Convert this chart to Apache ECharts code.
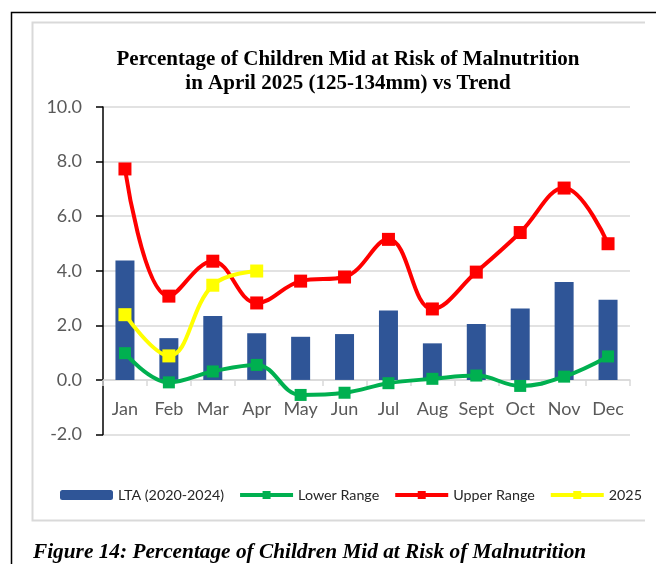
<!DOCTYPE html>
<html>
<head>
<meta charset="utf-8">
<title>Percentage of Children Mid at Risk of Malnutrition</title>
<script src="https://cdn.jsdelivr.net/npm/echarts@6/dist/echarts.min.js"></script>
<style>
  html, body { margin: 0; padding: 0; background: #ffffff; }
  #chart { width: 656px; height: 564px; }
</style>
</head>
<body>
<div id="chart"></div>
<script>
// Months on the category axis
var months = ['Jan', 'Feb', 'Mar', 'Apr', 'May', 'Jun', 'Jul', 'Aug', 'Sept', 'Oct', 'Nov', 'Dec'];

// Long-term average 2020-2024 (%)
var ltaValues = [4.38, 1.53, 2.34, 1.71, 1.58, 1.68, 2.54, 1.34, 2.05, 2.62, 3.59, 2.94];

// Lower and upper bounds of the expected range (%)
var lowerRange = [0.98, -0.09, 0.31, 0.55, -0.55, -0.47, -0.12, 0.04, 0.16, -0.22, 0.12, 0.86];
var upperRange = [7.73, 3.07, 4.35, 2.82, 3.62, 3.77, 5.15, 2.60, 3.95, 5.40, 7.03, 4.99];

// Observed values for 2025 (January to April)
var values2025 = [2.39, 0.88, 3.47, 3.99];

// Value axis ticks
var yMin = -2, yMax = 10, yStep = 2;

var chart = echarts.init(document.getElementById('chart'), null, { renderer: 'canvas' });

var labelFont = 'Lato, "Open Sans", sans-serif';

// Plot area edges in pixels
var gridTop = 107, gridBottom = 129.5;
var plotHeight = 564 - gridTop - gridBottom;
// Shift that puts the month axis on the zero line
var zeroShift = -plotHeight * (0 - yMin) / (yMax - yMin);

function lineSeries(name, data, color, size) {
  return {
    name: name,
    type: 'line',
    data: data,
    smooth: 0.4,
    symbol: 'rect',
    symbolSize: size,
    lineStyle: { color: color, width: 4 },
    itemStyle: { color: color },
    z: 3
  };
}

var option = {
  animation: false,
  backgroundColor: '#ffffff',
  title: {
    text: 'Percentage of Children Mid at Risk of Malnutrition\nin April 2025 (125-134mm) vs Trend',
    left: 343,
    top: 43,
    textAlign: 'center',
    textStyle: {
      fontFamily: '"Liberation Serif", "Times New Roman", serif',
      fontWeight: 'bold',
      fontSize: 21,
      lineHeight: 24,
      color: '#000000'
    }
  },
  legend: {
    left: 60,
    top: 488,
    width: 596,
    padding: 0,
    itemWidth: 53,
    itemHeight: 10,
    itemGap: 14,
    textStyle: { fontFamily: labelFont, fontSize: 14.3, color: '#262626' },
    lineStyle: { width: 4 },
    data: ['LTA (2020-2024)', 'Lower Range', 'Upper Range', '2025']
  },
  grid: { left: 103, right: 26, top: gridTop, bottom: gridBottom },
  xAxis: {
    type: 'category',
    data: months,
    boundaryGap: true,
    offset: zeroShift,
    axisLine: { onZero: false, lineStyle: { color: '#d9d9d9', width: 1.5 } },
    axisTick: { show: true, length: 6, lineStyle: { color: '#d9d9d9', width: 1.5 } },
    axisLabel: { interval: 0, margin: 20, fontFamily: labelFont, fontSize: 18, color: '#595959' }
  },
  yAxis: {
    type: 'value',
    min: yMin,
    max: yMax,
    interval: yStep,
    axisLine: { show: true, lineStyle: { color: '#000000', width: 1.5 } },
    axisTick: { show: true, length: 7, lineStyle: { color: '#000000', width: 1.5 } },
    splitLine: { lineStyle: { color: '#d9d9d9', width: 1.5 } },
    axisLabel: {
      margin: 21,
      fontFamily: labelFont,
      fontSize: 18,
      color: '#595959',
      formatter: function (v) { return v.toFixed(1); }
    }
  },
  series: [
    {
      name: 'LTA (2020-2024)',
      type: 'bar',
      data: ltaValues,
      barWidth: 19,
      itemStyle: { color: '#2f5597' },
      z: 2
    },
    lineSeries('Lower Range', lowerRange, '#00b050', 12),
    lineSeries('Upper Range', upperRange, '#ff0000', 13),
    lineSeries('2025', values2025, '#ffff00', 13)
  ],
  graphic: [
    {
      type: 'polyline',
      silent: true,
      shape: { points: [[11.5, 564], [11.5, 12.5], [656, 12.5]] },
      style: { fill: null, stroke: '#000000', lineWidth: 1.5 }
    },
    {
      type: 'polyline',
      silent: true,
      shape: { points: [[645, 22.5], [32.5, 22.5], [32.5, 520.5], [645, 520.5]] },
      style: { fill: null, stroke: '#d9d9d9', lineWidth: 2 }
    },
    {
      type: 'text',
      silent: true,
      left: 33,
      top: 542,
      style: {
        text: 'Figure 14: Percentage of Children Mid at Risk of Malnutrition',
        font: 'italic bold 21.3px "Liberation Serif", "Times New Roman", serif',
        fill: '#000000'
      }
    }
  ]
};

chart.setOption(option);
</script>
</body>
</html>
